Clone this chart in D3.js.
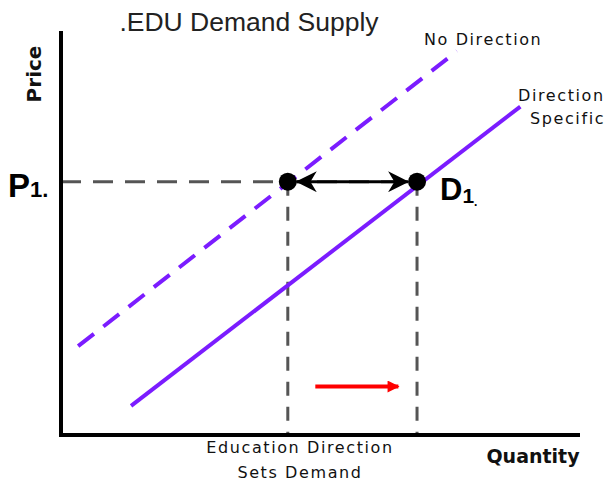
<!DOCTYPE html>
<html>
<head>
<meta charset="utf-8">
<script src="https://cdn.jsdelivr.net/npm/d3@7"></script>
<style>
  body { margin: 0; background: #fff; }
  svg { display: block; }
  .lbl { font-family: "DejaVu Sans", sans-serif; font-size: 16px; letter-spacing: 1.6px; fill: #111; }
</style>
</head>
<body>
<svg width="610" height="484"></svg>
<script>
// quantity / price in chart units (0..10 on both axes)
var noDirection = [[0.33, 2.2], [7.63, 9.5]];
var directionSpecific = [[1.35, 0.72], [8.85, 8.13]];
var p1 = 6.27;
var q1 = [4.37, 6.86];
var shift = [[4.9, 1.2], [6.5, 1.2]];

var svg = d3.select("svg"),
  width = +svg.attr("width"),
  height = +svg.attr("height");

var x = d3.scaleLinear().domain([0, 10]).range([61, 580]);
var y = d3.scaleLinear().domain([0, 10]).range([435, 31]);

var line = d3.line()
  .x(function(d) { return x(d[0]); })
  .y(function(d) { return y(d[1]); });

var defs = svg.append("defs");
defs.append("marker")
  .attr("id", "head")
  .attr("viewBox", "0 0 20 20")
  .attr("refX", 19)
  .attr("refY", 10)
  .attr("markerWidth", 21)
  .attr("markerHeight", 21)
  .attr("markerUnits", "userSpaceOnUse")
  .attr("orient", "auto-start-reverse")
  .append("path")
  .attr("d", "M0,0 L20,10 L0,20 L6,10 Z")
  .attr("fill", "#000");
defs.append("marker")
  .attr("id", "redhead")
  .attr("viewBox", "0 0 10 10")
  .attr("refX", 9)
  .attr("refY", 5)
  .attr("markerWidth", 14)
  .attr("markerHeight", 12)
  .attr("markerUnits", "userSpaceOnUse")
  .attr("orient", "auto")
  .append("path")
  .attr("d", "M0,0 L10,5 L0,10 Z")
  .attr("fill", "#f00");

// grey guide lines
svg.append("line")
  .attr("x1", x(0)).attr("x2", x(q1[1]))
  .attr("y1", y(p1)).attr("y2", y(p1))
  .attr("stroke", "#555").attr("stroke-width", 3)
  .attr("stroke-dasharray", "20,12");
q1.forEach(function(q) {
  svg.append("line")
    .attr("x1", x(q)).attr("x2", x(q))
    .attr("y1", y(p1)).attr("y2", y(0))
    .attr("stroke", "#555").attr("stroke-width", 3)
    .attr("stroke-dasharray", "14,11");
});

// supply curves
svg.append("path")
  .datum(noDirection)
  .attr("d", line)
  .attr("fill", "none")
  .attr("stroke", "#7b1cff")
  .attr("stroke-width", 4)
  .attr("stroke-dasharray", "20,12");
svg.append("path")
  .datum(directionSpecific)
  .attr("d", line)
  .attr("fill", "none")
  .attr("stroke", "#7b1cff")
  .attr("stroke-width", 4);

// axes
svg.append("line")
  .attr("x1", x(0)).attr("x2", x(0))
  .attr("y1", y(10)).attr("y2", y(0) + 2)
  .attr("stroke", "#000").attr("stroke-width", 4);
svg.append("line")
  .attr("x1", x(0) - 2).attr("x2", x(10))
  .attr("y1", y(0)).attr("y2", y(0))
  .attr("stroke", "#000").attr("stroke-width", 4);

// double arrow between equilibrium points
svg.append("line")
  .attr("x1", x(q1[0]) + 9).attr("x2", x(q1[1]) - 9)
  .attr("y1", y(p1)).attr("y2", y(p1))
  .attr("stroke", "#000").attr("stroke-width", 3)
  .attr("marker-start", "url(#head)")
  .attr("marker-end", "url(#head)");

svg.selectAll("circle.pt")
  .data(q1)
  .enter()
  .append("circle")
  .attr("class", "pt")
  .attr("cx", function(d) { return x(d); })
  .attr("cy", y(p1))
  .attr("r", 9)
  .attr("fill", "#000");

// red shift arrow
svg.append("path")
  .datum(shift)
  .attr("d", line)
  .attr("stroke", "#f00")
  .attr("stroke-width", 4)
  .attr("marker-end", "url(#redhead)");

// text
svg.append("text")
  .attr("x", 249).attr("y", 31)
  .attr("text-anchor", "middle")
  .attr("font-family", "Liberation Sans, Arial, sans-serif")
  .attr("font-size", 26.5)
  .attr("fill", "#222")
  .text(".EDU Demand Supply");

svg.append("text")
  .attr("transform", "translate(41,74) rotate(-90)")
  .attr("text-anchor", "middle")
  .attr("font-family", "DejaVu Sans, sans-serif")
  .attr("font-weight", "bold")
  .attr("font-size", 20)
  .attr("fill", "#111")
  .text("Price");

svg.append("text").attr("class", "lbl")
  .attr("x", 424).attr("y", 45).text("No Direction");
svg.append("text").attr("class", "lbl")
  .attr("x", 518).attr("y", 101).text("Direction");
svg.append("text").attr("class", "lbl")
  .attr("x", 530).attr("y", 124).text("Specific");

svg.append("text").attr("class", "lbl")
  .attr("x", 300).attr("y", 453)
  .attr("text-anchor", "middle").text("Education Direction");
svg.append("text").attr("class", "lbl")
  .attr("x", 300).attr("y", 478)
  .attr("text-anchor", "middle").text("Sets Demand");

svg.append("text")
  .attr("x", 533).attr("y", 463)
  .attr("text-anchor", "middle")
  .attr("font-family", "DejaVu Sans, sans-serif")
  .attr("font-weight", "bold")
  .attr("font-size", 19)
  .attr("fill", "#111")
  .text("Quantity");

var pl = svg.append("text")
  .attr("x", 8).attr("y", 197)
  .attr("font-family", "Liberation Sans, Arial, sans-serif")
  .attr("font-weight", "bold")
  .attr("fill", "#000");
pl.append("tspan").attr("font-size", 33).text("P");
pl.append("tspan").attr("font-size", 22).text("1.");

var dl = svg.append("text")
  .attr("x", 440).attr("y", 200)
  .attr("font-family", "Liberation Sans, Arial, sans-serif")
  .attr("font-weight", "bold")
  .attr("fill", "#000");
dl.append("tspan").attr("font-size", 31).text("D");
dl.append("tspan").attr("font-size", 21).attr("dy", 3).text("1");
dl.append("tspan").attr("font-size", 12).attr("dy", 3).text(".");
</script>
</body>
</html>
